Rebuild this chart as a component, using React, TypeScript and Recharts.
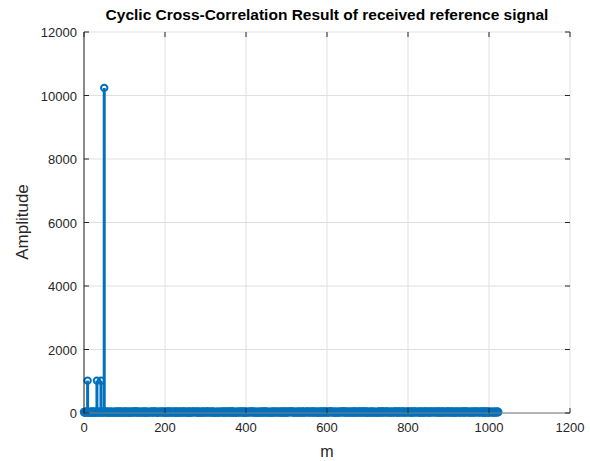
import React from "react";
import {
  ComposedChart,
  Bar,
  XAxis,
  YAxis,
  CartesianGrid,
} from "recharts";

const X_TICKS = [0, 200, 400, 600, 800, 1000, 1200];
const Y_TICKS = [0, 2000, 4000, 6000, 8000, 10000, 12000];

// cyclic cross-correlation magnitude, m = 0..1023
const AMPLITUDE = [
  31, 18, 42, 27, 12, 36, 24, 45, 19, 1020, 28, 33, 15, 40, 22, 37,
  26, 14, 39, 30, 21, 47, 17, 34, 25, 11, 43, 29, 38, 16, 32, 23,
  1020, 41, 20, 35, 27, 13, 44, 31, 18, 36, 1020, 24, 39, 28, 15, 42,
  33, 21, 10240, 26, 37, 19, 45, 30, 14, 40, 23, 35, 28, 17, 43, 32,
  22, 38, 29, 16, 41, 34, 25, 12, 36, 27, 44, 20, 31, 18, 39, 26,
  35, 23, 47, 30, 14, 28, 40, 21, 33, 45, 17, 37, 24, 42, 29, 13,
  40, 26, 19, 36, 31, 48, 22, 15, 38, 27, 34, 43, 20, 30, 16, 41,
  18, 32, 44, 25, 37, 13, 29, 46, 23, 35, 28, 19, 39, 24, 47, 33,
  27, 45, 16, 38, 22, 34, 41, 30, 12, 26, 43, 37, 21, 32, 18, 36,
  43, 20, 35, 29, 46, 17, 24, 39, 31, 14, 38, 25, 44, 28, 33, 22,
  15, 37, 28, 42, 19, 33, 26, 48, 35, 21, 30, 16, 40, 27, 45, 34,
  32, 24, 41, 17, 36, 29, 13, 38, 22, 44, 26, 35, 19, 31, 23, 46,
  29, 40, 21, 34, 15, 43, 37, 25, 30, 18, 47, 24, 36, 12, 39, 27,
  38, 16, 33, 45, 26, 20, 31, 42, 17, 35, 23, 40, 28, 44, 14, 30,
  21, 35, 47, 19, 32, 38, 24, 13, 41, 29, 16, 33, 46, 22, 37, 25,
  44, 27, 14, 39, 23, 31, 46, 36, 20, 42, 34, 18, 25, 38, 30, 17,
  24, 41, 30, 12, 45, 26, 18, 34, 39, 15, 28, 43, 32, 20, 36, 48,
  37, 19, 26, 43, 28, 40, 33, 21, 14, 38, 45, 22, 17, 35, 27, 31,
  16, 34, 39, 24, 18, 47, 29, 42, 26, 32, 13, 36, 41, 25, 44, 20,
  30, 45, 22, 36, 40, 15, 38, 27, 33, 19, 42, 28, 23, 47, 18, 35,
  42, 23, 31, 17, 27, 34, 12, 44, 37, 25, 20, 39, 30, 14, 33, 26,
  19, 38, 44, 28, 35, 22, 41, 16, 29, 46, 33, 13, 38, 24, 40, 31,
  34, 14, 27, 40, 21, 46, 30, 37, 18, 23, 39, 45, 26, 32, 15, 43,
  25, 47, 36, 20, 33, 18, 24, 29, 42, 35, 16, 31, 44, 19, 28, 38,
  39, 21, 15, 43, 30, 37, 45, 22, 27, 13, 34, 40, 18, 36, 47, 24,
  13, 36, 42, 26, 17, 29, 34, 41, 23, 38, 27, 20, 35, 45, 21, 32,
  46, 28, 19, 35, 39, 24, 16, 33, 44, 30, 21, 37, 12, 27, 40, 18,
  23, 42, 33, 14, 26, 41, 37, 19, 31, 47, 25, 16, 39, 34, 22, 45,
  36, 17, 40, 31, 44, 20, 28, 35, 13, 26, 42, 33, 24, 18, 38, 29,
  28, 33, 25, 47, 16, 36, 21, 40, 34, 19, 30, 44, 27, 41, 15, 37,
  41, 26, 37, 22, 32, 14, 45, 28, 20, 43, 17, 35, 31, 23, 46, 19,
  17, 44, 20, 38, 25, 43, 31, 12, 39, 27, 36, 22, 47, 29, 34, 40,
  35, 29, 46, 16, 41, 27, 19, 37, 30, 14, 44, 26, 21, 38, 25, 33,
  20, 39, 32, 43, 18, 34, 42, 24, 15, 36, 28, 47, 33, 17, 41, 26,
  44, 15, 27, 35, 29, 21, 38, 46, 31, 22, 40, 19, 36, 30, 13, 39,
  27, 36, 41, 19, 47, 32, 14, 30, 43, 37, 18, 34, 25, 45, 28, 22,
  33, 22, 18, 42, 26, 39, 35, 17, 24, 46, 31, 28, 40, 14, 37, 43,
  14, 40, 34, 27, 38, 16, 45, 33, 21, 29, 42, 13, 30, 36, 24, 47,
  39, 31, 23, 46, 20, 35, 28, 41, 37, 18, 25, 44, 16, 32, 43, 21,
  26, 17, 43, 32, 37, 24, 12, 39, 28, 41, 34, 20, 46, 23, 30, 35,
  45, 34, 29, 15, 31, 47, 40, 22, 18, 33, 27, 38, 24, 42, 19, 28,
  18, 43, 36, 40, 23, 28, 33, 15, 46, 25, 39, 31, 14, 37, 45, 30,
  32, 25, 14, 37, 44, 19, 26, 47, 35, 20, 43, 17, 38, 27, 22, 41,
  40, 20, 45, 28, 16, 42, 36, 31, 23, 39, 13, 46, 29, 34, 18, 26,
  23, 38, 31, 19, 35, 26, 47, 18, 42, 30, 24, 37, 21, 44, 33, 15,
  37, 27, 22, 44, 29, 13, 34, 40, 16, 47, 36, 25, 32, 19, 39, 43,
  15, 46, 38, 24, 42, 33, 20, 27, 38, 21, 29, 41, 45, 26, 17, 34,
  43, 19, 28, 36, 12, 40, 31, 44, 25, 34, 18, 22, 37, 30, 46, 24,
  29, 35, 47, 21, 38, 23, 17, 35, 41, 13, 45, 32, 20, 43, 28, 36,
  21, 41, 16, 33, 45, 30, 39, 22, 28, 37, 26, 14, 40, 35, 23, 47,
  36, 24, 40, 27, 19, 46, 25, 13, 34, 43, 31, 39, 18, 24, 42, 30,
  47, 30, 34, 15, 28, 37, 44, 36, 20, 26, 40, 23, 33, 46, 16, 29,
  19, 39, 25, 42, 36, 18, 29, 41, 33, 15, 38, 47, 27, 21, 35, 44,
  34, 16, 43, 30, 23, 41, 14, 27, 45, 32, 22, 35, 42, 29, 37, 20,
  26, 45, 21, 38, 33, 27, 36, 19, 40, 24, 47, 18, 31, 39, 14, 33,
  41, 28, 35, 13, 46, 22, 31, 43, 17, 38, 29, 34, 25, 44, 27, 38,
  16, 37, 30, 45, 25, 39, 20, 32, 36, 28, 14, 42, 47, 22, 33, 25,
  38, 23, 44, 29, 17, 34, 42, 15, 27, 46, 35, 21, 30, 37, 41, 19,
  24, 43, 18, 36, 40, 26, 33, 47, 22, 31, 39, 28, 16, 45, 23, 34,
  45, 31, 27, 22, 35, 44, 19, 28, 38, 14, 26, 40, 36, 33, 18, 42,
  30, 19, 39, 41, 24, 15, 37, 34, 46, 29, 43, 23, 39, 26, 35, 27,
  17, 42, 33, 28, 47, 36, 23, 21, 31, 40, 18, 45, 24, 34, 44, 13,
  35, 26, 45, 18, 30, 29, 41, 38, 15, 25, 37, 32, 43, 20, 28, 36,
  42, 22, 14, 37, 26, 40, 30, 17, 44, 35, 21, 27, 33, 46, 19, 31,
];

const data = AMPLITUDE.map((v, m) => ({ m, v }));

const BLUE = "#0072BD";
const AXIS = "#262626";
const FRAME = "#7d7d7d";
const FONT = "Arial, 'Liberation Sans', Helvetica, sans-serif";
const TS = 0.01;

const W = 590;
const H = 461;
const MARGIN = { top: 32, right: 20, bottom: 0, left: 0 };
const Y_AXIS_W = 84;
const X_AXIS_H = 48;
const PLOT_W = W - Y_AXIS_W - MARGIN.right;
const PLOT_H = H - MARGIN.top - X_AXIS_H;
const TICK = 5;

const Stem = (props: any) => {
  const { x, y, width, height } = props;
  const cx = x + width / 2;
  return (
    <g>
      <line x1={cx} x2={cx} y1={y} y2={y + height} stroke={BLUE} strokeWidth={3} />
      <circle cx={cx} cy={y} r={3.2} fill="none" stroke={BLUE} strokeWidth={2} />
    </g>
  );
};

// bottom labels + inward ticks on bottom and top edges
const BottomTick = ({ x, y, payload }: any) => (
  <g>
    <line x1={x} x2={x} y1={y} y2={y - TICK} stroke={AXIS} />
    <line x1={x} x2={x} y1={y - PLOT_H} y2={y - PLOT_H + TICK} stroke={AXIS} />
    <text x={x} y={y + 19} textAnchor="middle" fontSize={13} fill={AXIS} fontFamily={FONT}>
      {payload.value}
    </text>
  </g>
);

// left labels + inward ticks on left and right edges
const LeftTick = ({ x, y, payload }: any) => (
  <g>
    <line x1={x} x2={x + TICK} y1={y} y2={y} stroke={AXIS} />
    <line x1={x + PLOT_W} x2={x + PLOT_W - TICK} y1={y} y2={y} stroke={AXIS} />
    <text x={x - 7} y={y + 5} textAnchor="end" fontSize={13} fill={AXIS} fontFamily={FONT}>
      {payload.value}
    </text>
  </g>
);

export default function App() {
  return (
    <div style={{ position: "absolute", left: 0, top: 0, width: W, height: H, background: "#fff" }}>
      <ComposedChart width={W} height={H} data={data} margin={MARGIN}>
        <CartesianGrid stroke="#dfdfdf" horizontalValues={Y_TICKS} verticalValues={X_TICKS} />
        <XAxis
          dataKey="m"
          type="number"
          domain={[0, 1200]}
          ticks={X_TICKS}
          interval={0}
          height={X_AXIS_H}
          tickSize={TS}
          tickMargin={0}
          tickLine={false}
          axisLine={{ stroke: FRAME }}
          tick={<BottomTick />}
        />
        <XAxis
          xAxisId="top"
          dataKey="m"
          type="number"
          orientation="top"
          domain={[0, 1200]}
          height={0}
          tick={false}
          tickLine={false}
          axisLine={{ stroke: "#555" }}
        />
        <YAxis
          type="number"
          domain={[0, 12000]}
          ticks={Y_TICKS}
          interval={0}
          width={Y_AXIS_W}
          tickSize={TS}
          tickMargin={0}
          tickLine={false}
          axisLine={{ stroke: AXIS }}
          tick={<LeftTick />}
        />
        <YAxis
          yAxisId="right"
          orientation="right"
          type="number"
          domain={[0, 12000]}
          width={0}
          tick={false}
          tickLine={false}
          axisLine={{ stroke: FRAME }}
        />
        <Bar dataKey="v" barSize={1} shape={<Stem />} isAnimationActive={false} />
        <text x={327} y={20} textAnchor="middle" fontSize={15.5} fontWeight="bold" fill="#000" fontFamily={FONT}>
          Cyclic Cross-Correlation Result of received reference signal
        </text>
        <text x={327} y={457} textAnchor="middle" fontSize={16} fill={AXIS} fontFamily={FONT}>
          m
        </text>
        <text
          x={22}
          y={222}
          transform="rotate(-90, 22, 222)"
          textAnchor="middle"
          dominantBaseline="central"
          fontSize={17}
          fill={AXIS}
          fontFamily={FONT}
        >
          Amplitude
        </text>
      </ComposedChart>
    </div>
  );
}
